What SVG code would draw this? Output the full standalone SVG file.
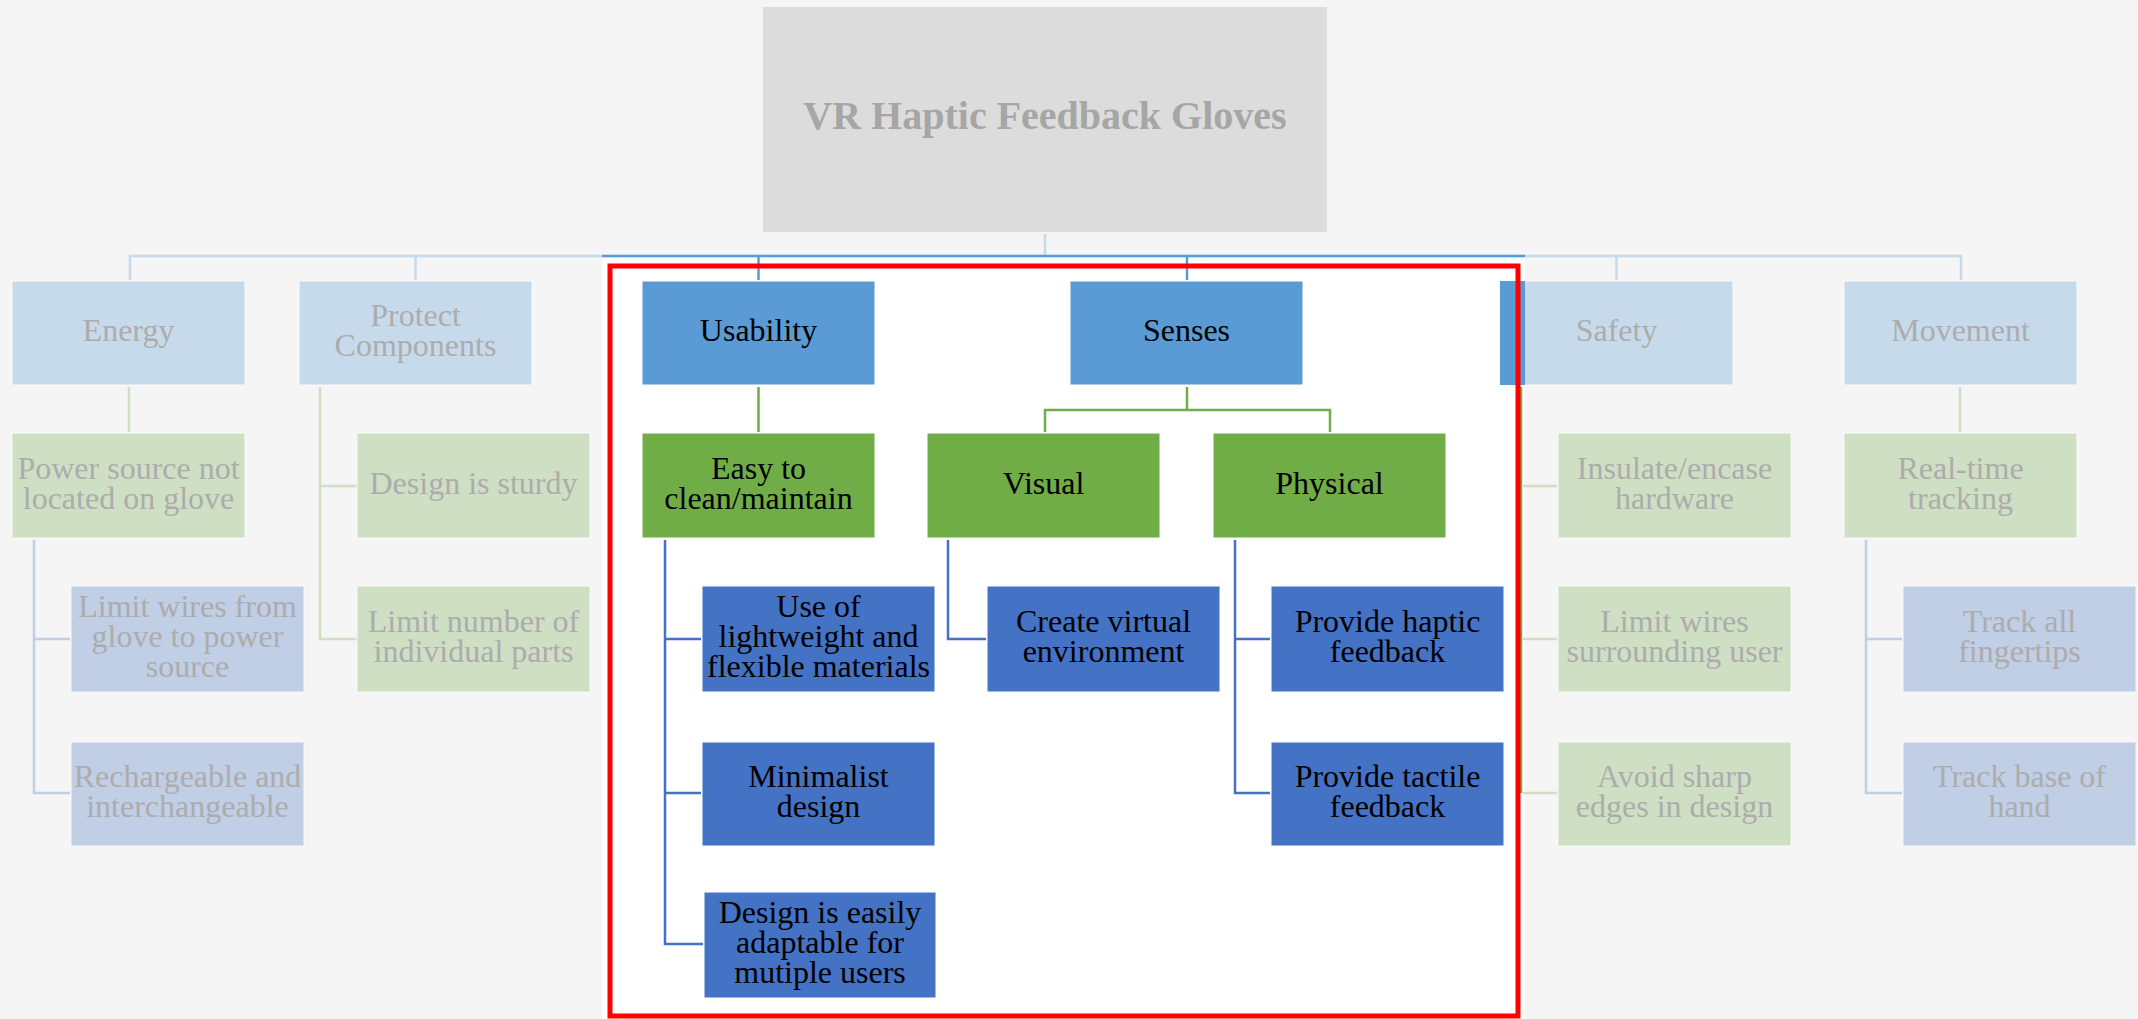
<svg xmlns="http://www.w3.org/2000/svg" width="2138" height="1019" viewBox="0 0 2138 1019">
<style>
text{font-family:"Liberation Serif","Times New Roman",serif;font-size:32px;text-anchor:middle}
.t{fill:#000}
.tf{fill:#acacac}
.l1{fill:#5b9bd5;stroke:#ffffff;stroke-width:1}
.l1f{fill:#c7daeb;stroke:#f9f9f9;stroke-width:1}
.l2{fill:#70ad47;stroke:#ffffff;stroke-width:1}
.l2f{fill:#cfdfc3;stroke:#f9f9f9;stroke-width:1}
.l3{fill:#4472c4;stroke:#ffffff;stroke-width:1}
.l3f{fill:#c0cee6;stroke:#f9f9f9;stroke-width:1}
.c{fill:none;stroke-width:2.5}
.cb{stroke:#5b9bd5}.cbf{stroke:#c7daeb}
.cg{stroke:#70ad47}.cgf{stroke:#cfdfc3}
.cd{stroke:#4472c4}.cdf{stroke:#c0cee6}
</style>
<rect x="0" y="0" width="2138" height="1019" fill="#f5f5f5"/>
<rect x="602" y="257" width="923" height="762" fill="#ffffff"/>
<g id="connectors">
<path class="c cbf" d="M1045 234V256M130 280V256H1961V280M415.5 256V280M1616.5 256V280"/>
<path class="c cb" d="M602 256H1525M758.5 256V280M1187 256V280"/>
<path class="c cgf" d="M129 387V432M320 387V639H357M320 486H357M1523 486H1557M1523 639H1557M1523 793H1557M1960 387V432"/>
<path class="c cg" d="M758.5 387V432M1187 387V410M1045 432V410H1330V432M1521 387V793"/>
<path class="c cdf" d="M34 540V793H70M34 639H70M1866 540V793H1902M1866 639H1902"/>
<path class="c cd" d="M665 540V944H703M665 639H701M665 793H701M948 540V639H986M1235 540V793H1270M1235 639H1270"/>
</g>
<g id="root">
<rect x="763" y="7" width="564" height="225" fill="#dcdcdc"/>
<text x="1045" y="129" style="font-size:40px;font-weight:bold;fill:#a6a6a6">VR Haptic Feedback Gloves</text>
</g>
<g id="energy"><rect class="l1f" x="12" y="281" width="233" height="104"/><text class="tf" x="128.5" y="341">Energy</text></g>
<g id="protect-components"><rect class="l1f" x="299" y="281" width="233" height="104"/><text class="tf" x="415.5"><tspan x="415.5" y="326">Protect</tspan><tspan x="415.5" y="356">Components</tspan></text></g>
<g id="usability"><rect class="l1" x="642" y="281" width="233" height="104"/><text class="t" x="758.5" y="341">Usability</text></g>
<g id="senses"><rect class="l1" x="1070" y="281" width="233" height="104"/><text class="t" x="1186.5" y="341">Senses</text></g>
<g id="safety"><rect class="l1f" x="1500" y="281" width="233" height="104"/><rect x="1500" y="281" width="25" height="104" fill="#5b9bd5"/><text class="tf" x="1616.5" y="341">Safety</text></g>
<g id="movement"><rect class="l1f" x="1844" y="281" width="233" height="104"/><text class="tf" x="1960.5" y="341">Movement</text></g>
<g id="power-source"><rect class="l2f" x="12" y="433" width="233" height="105"/><text class="tf"><tspan x="128.5" y="478.5">Power source not</tspan><tspan x="128.5" y="508.5">located on glove</tspan></text></g>
<g id="design-sturdy"><rect class="l2f" x="357" y="433" width="233" height="105"/><text class="tf" x="473.5" y="493.5">Design is sturdy</text></g>
<g id="easy-clean"><rect class="l2" x="642" y="433" width="233" height="105"/><text class="t"><tspan x="758.5" y="478.5">Easy to</tspan><tspan x="758.5" y="508.5">clean/maintain</tspan></text></g>
<g id="visual"><rect class="l2" x="927" y="433" width="233" height="105"/><text class="t" x="1043.5" y="493.5">Visual</text></g>
<g id="physical"><rect class="l2" x="1213" y="433" width="233" height="105"/><text class="t" x="1329.5" y="493.5">Physical</text></g>
<g id="insulate"><rect class="l2f" x="1558" y="433" width="233" height="105"/><text class="tf"><tspan x="1674.5" y="478.5">Insulate/encase</tspan><tspan x="1674.5" y="508.5">hardware</tspan></text></g>
<g id="real-time"><rect class="l2f" x="1844" y="433" width="233" height="105"/><text class="tf"><tspan x="1960.5" y="478.5">Real-time</tspan><tspan x="1960.5" y="508.5">tracking</tspan></text></g>
<g id="limit-wires-glove"><rect class="l3f" x="71" y="586" width="233" height="106"/><text class="tf"><tspan x="187.5" y="617">Limit wires from</tspan><tspan x="187.5" y="647">glove to power</tspan><tspan x="187.5" y="677">source</tspan></text></g>
<g id="rechargeable"><rect class="l3f" x="71" y="742" width="233" height="104"/><text class="tf"><tspan x="187.5" y="787">Rechargeable and</tspan><tspan x="187.5" y="817">interchangeable</tspan></text></g>
<g id="limit-parts"><rect class="l2f" x="357" y="586" width="233" height="106"/><text class="tf"><tspan x="473.5" y="632">Limit number of</tspan><tspan x="473.5" y="662">individual parts</tspan></text></g>
<g id="lightweight"><rect class="l3" x="702" y="586" width="233" height="106"/><text class="t"><tspan x="818.5" y="617">Use of</tspan><tspan x="818.5" y="647">lightweight and</tspan><tspan x="818.5" y="677">flexible materials</tspan></text></g>
<g id="minimalist"><rect class="l3" x="702" y="742" width="233" height="104"/><text class="t"><tspan x="818.5" y="787">Minimalist</tspan><tspan x="818.5" y="817">design</tspan></text></g>
<g id="adaptable"><rect class="l3" x="704" y="892" width="232" height="106"/><text class="t"><tspan x="820" y="923">Design is easily</tspan><tspan x="820" y="953">adaptable for</tspan><tspan x="820" y="983">mutiple users</tspan></text></g>
<g id="virtual-env"><rect class="l3" x="987" y="586" width="233" height="106"/><text class="t"><tspan x="1103.5" y="632">Create virtual</tspan><tspan x="1103.5" y="662">environment</tspan></text></g>
<g id="haptic"><rect class="l3" x="1271" y="586" width="233" height="106"/><text class="t"><tspan x="1387.5" y="632">Provide haptic</tspan><tspan x="1387.5" y="662">feedback</tspan></text></g>
<g id="tactile"><rect class="l3" x="1271" y="742" width="233" height="104"/><text class="t"><tspan x="1387.5" y="787">Provide tactile</tspan><tspan x="1387.5" y="817">feedback</tspan></text></g>
<g id="limit-wires-user"><rect class="l2f" x="1558" y="586" width="233" height="106"/><text class="tf"><tspan x="1674.5" y="632">Limit wires</tspan><tspan x="1674.5" y="662">surrounding user</tspan></text></g>
<g id="sharp-edges"><rect class="l2f" x="1558" y="742" width="233" height="104"/><text class="tf"><tspan x="1674.5" y="787">Avoid sharp</tspan><tspan x="1674.5" y="817">edges in design</tspan></text></g>
<g id="fingertips"><rect class="l3f" x="1903" y="586" width="233" height="106"/><text class="tf"><tspan x="2019.5" y="632">Track all</tspan><tspan x="2019.5" y="662">fingertips</tspan></text></g>
<g id="base-hand"><rect class="l3f" x="1903" y="742" width="233" height="104"/><text class="tf"><tspan x="2019.5" y="787">Track base of</tspan><tspan x="2019.5" y="817">hand</tspan></text></g>
<g id="highlight"><rect x="610" y="266" width="908" height="750" fill="none" stroke="#ff0000" stroke-width="5"/></g>
</svg>
